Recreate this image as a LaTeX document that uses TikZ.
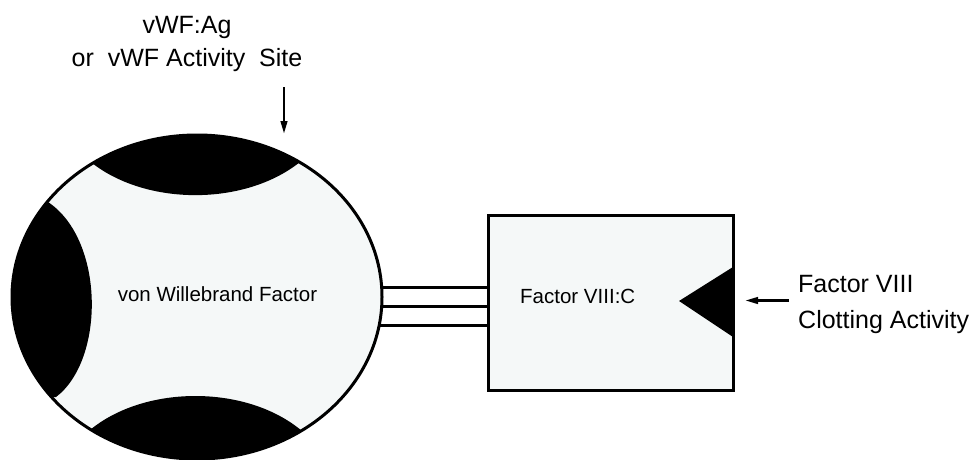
\documentclass[tikz,border=0pt]{standalone}
\usepackage{fontspec}
\setmainfont{Liberation Sans}
\usetikzlibrary{shapes.geometric,arrows.meta}
\definecolor{paper}{RGB}{245,248,248}
\tikzset{
  outline/.style={draw=black, line width=3pt, fill=paper, outer sep=0pt, inner sep=0pt},
  link/.style={line width=3pt},
  pointer/.style={line width=2.6pt, -{Triangle[length=13pt,width=6.5pt]}},
  bodytext/.style={font=\fontsize{20.5}{24}\selectfont, inner sep=0pt},
  labeltext/.style={font=\fontsize{25}{33}\selectfont, inner sep=0pt},
}
\begin{document}
\begin{tikzpicture}[x=1pt,y=-1pt]
\useasboundingbox (0,0) rectangle (979,460);

% von Willebrand factor molecule
\node[outline, ellipse, minimum width=370pt, minimum height=324pt] (vwf) at (197,297) {};
\begin{scope}
  \clip (197,297) ellipse [x radius=185pt, y radius=162pt];
  % top binding site
  \fill (92,163) .. controls (147,118) and (245,118) .. (300,162)
        .. controls (245,206) and (147,206) .. cycle;
  % left binding site
  \fill (48,202) .. controls (105,240) and (105,360) .. (56,397)
        -- (0,397) -- (0,202) -- cycle;
  % bottom binding site
  \fill (90,430) .. controls (145,384.5) and (247,384.5) .. (302,431)
        -- (302,470) -- (90,470) -- cycle;
\end{scope}
\node[bodytext, anchor=base] (vwftext) at (217.5,301.7) {von Willebrand Factor};

% factor VIII:C
\node[outline, rectangle, minimum width=245pt, minimum height=175pt] (box) at (610.5,302.5) {};
\fill (733,267) -- (679,301) -- (733,337) -- cycle;
\node[bodytext, anchor=base west] (fviiitext) at (520,303) {Factor VIII:C};

% bonds between the two proteins
\draw[link] (vwf.3.4) -- (vwf.3.4 -| box.west);
\draw[link] (vwf.-3.4) -- (vwf.-3.4 -| box.west);
\draw[link] (vwf.-9.7) -- (vwf.-9.7 -| box.west);

% labels with pointers
\node[labeltext, align=center, anchor=north] (site) at (187,16)
  {vWF:Ag\\or\ \ vWF Activity\ \ Site};
\coordinate (siteTail) at (284,87);
\coordinate (siteTip) at (284,134);
\draw[pointer] (siteTail) -- (siteTip);

\node[labeltext, align=left, anchor=north west, font=\fontsize{25}{36}\selectfont] (clot) at (798,275.5)
  {Factor VIII\\Clotting Activity};
\coordinate (clotTail) at (789,300.5);
\coordinate (clotTip) at (745,300.5);
\draw[pointer] (clotTail) -- (clotTip);
\end{tikzpicture}
\end{document}
